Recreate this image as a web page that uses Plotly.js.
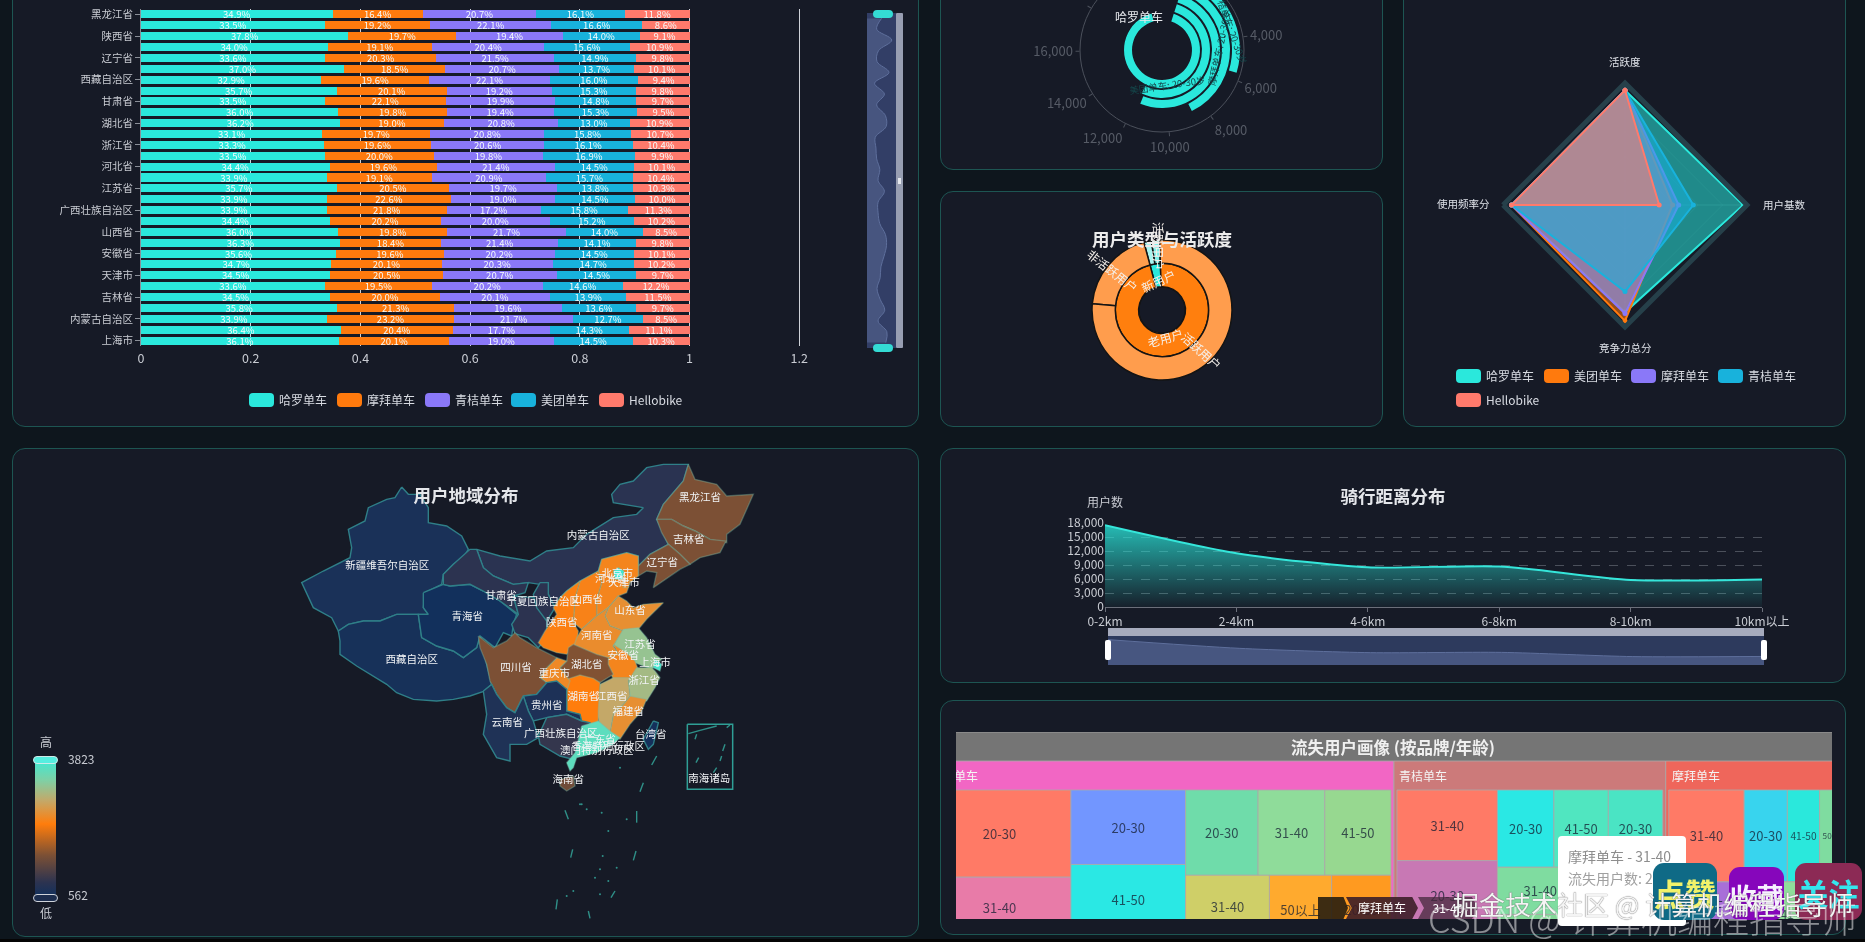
<!DOCTYPE html>
<html><head><meta charset="utf-8">
<script src="https://cdn.plot.ly/plotly-3.0.1.min.js"></script>
<style>
html,body{margin:0;padding:0;background:#0e161d;width:1865px;height:942px;overflow:hidden;font-family:"Noto Sans CJK SC","Noto Sans",sans-serif}
#root{position:absolute;left:0;top:0;width:1865px;height:942px;overflow:hidden;filter:blur(0.45px)}
.abs{position:absolute}
.panel{position:absolute;background:#161a26;border:1px solid #1d5552;border-radius:13px;box-sizing:border-box}
</style></head><body><div id="root"></div>
<script>
// ---------- stacked bars ----------
const provinces=["黑龙江省","新疆维吾尔自治区","陕西省","北京市","辽宁省","重庆市","西藏自治区","山东省","甘肃省","广东省","湖北省","河南省","浙江省","四川省","河北省","湖南省","江苏省","江西省","广西壮族自治区","福建省","山西省","云南省","安徽省","贵州省","天津市","海南省","吉林省","青海省","内蒙古自治区","宁夏回族自治区","上海市"];
const shownProvinces=["黑龙江省","陕西省","辽宁省","西藏自治区","甘肃省","湖北省","浙江省","河北省","江苏省","广西壮族自治区","山西省","安徽省","天津市","吉林省","内蒙古自治区","上海市"];
const brandNames=["哈罗单车","摩拜单车","青桔单车","美团单车","Hellobike"];
const brandColors=["#2ae8dc","#ff7a0d","#8a78f8","#18b2dc","#ff7a6c"];
const haluoShare=[34.9,33.5,37.8,34.0,33.6,37.0,32.9,35.7,33.5,36.0,36.2,33.1,33.3,33.5,34.4,33.9,35.7,33.9,33.9,34.4,36.0,36.3,35.6,34.7,34.5,33.6,34.5,35.8,33.9,36.4,36.1];
const mobikeShare=[16.4,19.2,19.7,19.1,20.3,18.5,19.6,20.1,22.1,19.8,19.0,19.7,19.6,20.0,19.6,19.1,20.5,22.6,21.8,20.2,19.8,18.4,19.6,20.1,20.5,19.5,20.0,21.3,23.2,20.4,20.1];
const qingjuShare=[20.7,22.1,19.4,20.4,21.5,20.7,22.1,19.2,19.9,19.4,20.8,20.8,20.6,19.8,21.4,20.9,19.7,19.0,17.2,20.0,21.7,21.4,20.2,20.3,20.7,20.2,20.1,19.6,21.7,17.7,19.0];
const meituanShare=[16.1,16.6,14.0,15.6,14.9,13.7,16.0,15.3,14.8,15.3,13.0,15.8,16.1,16.9,14.5,15.7,13.8,14.5,15.8,15.2,14.0,14.1,14.5,14.7,14.5,14.6,13.9,13.6,12.7,14.3,14.5];
const helloShare=[11.8,8.6,9.1,10.9,9.8,10.1,9.4,9.8,9.7,9.5,10.9,10.7,10.4,9.9,10.1,10.4,10.3,10.0,11.3,10.2,8.5,9.8,10.1,10.2,9.7,12.2,11.5,9.7,8.5,11.1,10.3];
const barTicks=[0,0.2,0.4,0.6,0.8,1,1.2];
// ---------- polar bars ----------
const polarBrands=["哈罗单车","美团单车","摩拜单车","青桔单车","Hellobike"];
const polarUsers=[20764,11910,11720,8660,5670];
const polarMax=22930;
const polarTicks=[0,2000,4000,6000,8000,10000,12000,14000,16000,18000];
const polarTickText=["","","4,000","6,000","8,000","10,000","12,000","14,000","16,000",""];
// ---------- sunburst ----------
const sunIds=["root","new","old","newActive","newIdle","oldIdle","oldActive"];
const sunLabels=["","新用户","老用户","活跃用户","非活跃用户","非活跃用户","活跃用户"];
const sunParents=["","root","root","new","new","old","old"];
const sunValues=[10000,360,9640,190,170,1940,7700];
const sunColors=["#161a26","#2ae8dc","#ff7f0e","#7ff0ea","#a8f4ef","#ff9d4d","#ff9d4d"];
// ---------- radar ----------
const radarAxes=["活跃度","用户基数","竞争力总分","使用频率分"];
const radarNames=["哈罗单车","美团单车","摩拜单车","青桔单车","Hellobike"];
const radarColors=["#2ae8dc","#ff7a0d","#8a78f8","#18b2dc","#ff7a6c"];
const radarHaluo=[94,97,88,93];
const radarMeituan=[94,39,95,93];
const radarMobike=[94,44,89,93];
const radarQingju=[94,56,71,93];
const radarHello=[94,28,0,93];
// ---------- map ----------
const mapScale=[[0,"#12305c"],[0.1,"#2c3350"],[0.3,"#7c5035"],[0.53,"#ff7d0c"],[0.7,"#c4a868"],[0.85,"#7fd0a5"],[1,"#3fe9d4"]];
const userMin=562, userMax=3823;
const mapOrder=["新疆","西藏","青海","内蒙古","甘肃","甘肃东部","宁夏","黑龙江","吉林","辽宁","河北","山西","陕西","山东","河南","江苏","安徽","浙江","福建","江西","湖北","湖南","重庆","四川","贵州","云南","广西","广东","海南","台湾","北京","天津","上海"];
const mapUsers=[660,630,562,860,890,890,890,1540,1540,1540,2390,2360,2320,2520,2490,3170,2390,3070,2520,2845,1570,2290,2450,1540,700,730,950,3595,1440,600,3823,2420,3760];
const mapOutline={
"新疆":[365,108,385,130,420,130,445,170,445,215,500,225,545,255,565,295,550,320,520,340,490,370,485,400,435,425,430,470,445,490,350,490,300,510,250,510,205,520,175,540,155,500,100,470,65,395,130,360,210,320,215,290,205,235,255,210,265,170,320,145,345,140],
"西藏":[175,540,205,520,250,510,300,510,350,490,415,490,425,560,470,585,520,600,550,620,590,590,600,550,620,640,635,700,615,720,570,735,520,745,470,750,400,745,350,725,320,700,270,670,230,645,180,610,180,570],
"青海":[430,425,490,400,510,405,570,400,610,420,660,450,710,490,700,520,695,555,670,545,645,590,600,555,590,590,550,620,520,600,470,585,425,560,415,490,445,490,430,470],
"内蒙古":[590,295,660,315,750,330,800,300,880,290,920,250,1000,200,1070,190,1090,170,1000,155,995,130,1020,100,1060,90,1100,50,1150,40,1225,40,1210,90,1150,160,1130,205,1165,280,1110,310,1075,345,1075,315,1040,305,965,325,955,360,900,390,860,420,840,440,820,470,805,430,800,395,780,400,745,395,700,400,640,375,610,350],
"甘肃":[490,400,490,370,520,340,570,295,590,295,610,350,640,375,700,400,745,395,735,425,700,435,715,490,660,450,610,420,570,400,510,405],
"甘肃东部":[700,435,760,440,800,500,800,560,775,590,745,560,705,548,695,520,715,490],
"宁夏":[780,395,805,395,805,430,825,470,800,510,770,470,760,430],
"黑龙江":[1225,40,1245,85,1310,100,1340,135,1420,130,1395,185,1380,220,1340,250,1340,275,1290,265,1245,240,1210,225,1175,205,1130,205,1150,160,1210,90],
"吉林":[1130,205,1175,205,1210,225,1245,240,1290,265,1338,270,1320,305,1260,320,1230,340,1200,310,1165,280,1145,245],
"辽宁":[1075,345,1110,310,1165,280,1200,310,1230,340,1200,355,1120,410,1130,365,1100,360,1075,375],
"河北":[965,325,1040,305,1075,315,1075,375,1050,395,1040,425,1015,435,985,470,950,495,950,445,965,395,955,360],
"山西":[900,390,955,360,965,395,950,445,950,495,905,535,880,515,885,440],
"陕西":[860,420,900,390,885,440,880,515,895,540,890,585,860,610,830,605,790,590,775,575,795,540,830,490,820,470,840,440],
"山东":[985,470,1015,435,1040,450,1060,470,1090,460,1150,455,1100,505,1075,535,1030,540,990,525,975,495],
"河南":[905,535,950,495,985,470,975,495,990,525,1030,540,1000,585,1020,615,985,625,950,615,880,590,890,560],
"江苏":[1030,535,1075,530,1100,560,1125,610,1145,625,1115,655,1065,635,1040,610,1000,585],
"安徽":[1000,580,1040,605,1065,630,1080,670,1050,685,1000,685,980,640,985,620,1015,610],
"浙江":[1070,650,1115,650,1125,660,1140,680,1125,710,1100,750,1050,740,1045,690],
"福建":[1050,735,1100,745,1085,780,1050,820,1020,865,990,845,1000,790,1030,760],
"江西":[960,700,1000,680,1050,680,1045,690,1050,735,1030,760,1000,790,990,845,960,825,950,780],
"湖北":[865,590,880,580,950,610,985,620,985,640,1000,670,960,695,940,685,900,675,870,695,840,650,860,630],
"湖南":[860,685,900,672,940,682,960,695,955,780,955,815,905,825,900,790,860,780],
"重庆":[780,680,800,650,830,620,860,630,840,650,870,690,860,720,830,695,800,695],
"四川":[595,555,640,590,680,570,705,545,720,560,770,590,830,620,800,650,780,680,800,695,770,730,730,735,705,785,680,770,650,730,630,690,620,640,600,590],
"贵州":[730,735,770,730,800,695,830,690,860,715,860,780,900,790,905,810,860,790,800,800,760,810,745,780],
"云南":[610,720,635,700,650,730,680,770,705,785,730,735,745,780,760,810,775,860,740,880,690,880,690,930,650,920,610,850,620,790],
"广西":[775,855,800,800,860,790,905,810,930,815,900,880,880,925,840,915,780,880],
"广东":[905,825,955,810,990,840,1020,860,1000,880,950,905,890,920,880,950,870,960,860,935,885,905],
"海南":[840,985,880,975,885,1005,860,1020,840,1005],
"台湾":[1120,810,1135,815,1120,880,1105,895,1090,865],
"北京":[1000,360,1015,350,1032,360,1028,385,1005,385],
"天津":[1030,385,1050,390,1045,410,1030,410],
"上海":[1125,625,1145,640,1140,660,1120,650]
};
const mapLabels=["新疆维吾尔自治区","西藏自治区","青海省","甘肃省","宁夏回族自治区","内蒙古自治区","黑龙江省","吉林省","辽宁省","北京市","河北省","天津市","山西省","山东省","陕西省","河南省","江苏省","安徽省","上海市","湖北省","四川省","重庆市","浙江省","湖南省","江西省","贵州省","福建省","云南省","广西壮族自治区","广东省","台湾省","香港特别行政区","澳门特别行政区","海南省","南海诸岛"];
const mapLabelX=[322,395,562,663,790,955,1260,1226,1147,1012,992,1032,922,1050,845,950,1080,1030,1125,920,708,823,1092,910,995,800,1045,682,842,960,1112,985,950,865,1288];
const mapLabelY=[345,628,500,437,455,255,143,267,338,370,385,398,447,481,516,555,582,615,638,642,651,670,692,740,740,765,785,818,851,868,853,888,900,987,985];
const mapLabelUsers=[660,630,562,890,890,860,1540,1540,1540,3823,2390,2420,2360,2520,2320,2490,3170,2390,3760,1570,1540,2450,3070,2290,2845,700,2520,730,950,3595,600,3200,3100,1440,562];
const islandLines=[[855,1078,865,1105],[1070,1080,1070,1115],[1130,915,1115,942],[1090,995,1080,1022],[878,1195,872,1220],[1068,1200,1060,1228],[1005,1320,993,1340],[832,1345,828,1375],[925,1380,930,1402],[1250,850,1245,865],[1335,880,1328,900],[1256,920,1248,935],[1325,915,1320,930],[1310,950,1300,965],[1225,848,1260,838],[1260,838,1310,825],[1340,830,1350,822]];
const islandDots=[905,1060,920,1075,965,1085,1040,1105,985,1140,968,1215,960,1255,945,1280,880,1320,860,1335,985,1290,960,1330,900,1060,1010,1250,1020,950];
// ---------- area ----------
const distanceBands=["0-2km","2-4km","4-6km","6-8km","8-10km","10km以上"];
const distanceUsers=[17500,11500,8500,8700,5800,5900];
const distanceTicks=[0,3000,6000,9000,12000,15000,18000];
// ---------- treemap ----------
const treeIds=["root","哈罗","青桔","摩拜","a1","a2","a3","a4","a5","a6","a7","a8","a9","a10","a11","a12","a13","a14","a15","b1","b2","b3","b4","b5","b6","b7","b8","b9","b10","b11","b12","b13","c1","c2","c3","c4","c5","c6","c7","c8","c9","c10","c11","c12","c13"];
const treeLabels=["","","","","20-30","31-40","50以上","20-30","41-50","31-40","20-30","31-40","41-50","31-40","41-50","50以上","20-30","20-30","31-40","31-40","20-30","41-50","50以上","20-30","41-50","20-30","31-40","50以上","41-50","31-40","20-30","50以上","31-40","20-30","41-50","50以上","50以上","20-30","31-40","20-30","41-50","31-40","20-30","41-50","50以上"];
const treeParents=["","root","root","root","哈罗","哈罗","哈罗","哈罗","哈罗","哈罗","哈罗","哈罗","哈罗","哈罗","哈罗","哈罗","哈罗","哈罗","哈罗","青桔","青桔","青桔","青桔","青桔","青桔","青桔","青桔","青桔","青桔","青桔","青桔","青桔","摩拜","摩拜","摩拜","摩拜","摩拜","摩拜","摩拜","摩拜","摩拜","摩拜","摩拜","摩拜","摩拜"];
const treeValues=[0,0,0,0,12700,8850,8750,8700,8100,7500,6300,5800,5750,5300,5200,4300,4100,3500,3300,7300,7200,7000,3000,4490,4325,4325,4160,3800,3565,3090,2730,1900,7200,4125,3075,3000,2900,2800,2700,2600,2500,2400,2300,2200,1600];
const treeColors=["#757575","#f266c4","#cc7a7a","#ef665b","#ff7a66","#e87ba8","#c98fd0","#7296ff","#2ae8e4","#a070e0","#6fdcaa","#8fdc9a","#97d890","#cfcf68","#d4b060","#ffaa2e","#ff9a20","#7fd4a0","#e0c060","#ff7a66","#c878b4","#a0c080","#e0a070","#2ae8e4","#50e6c0","#4ae4c4","#7fdca0","#84d898","#dcc060","#a070e0","#60c8e0","#e89060","#ff7a66","#38d4ee","#2ae8dc","#7fdca0","#a86fd8","#7fdca0","#e09060","#d0b060","#8fdc9a","#e0c060","#7296ff","#ffaa2e","#e87ba8"];
const treeBrandHeaders=["哈罗单车","青桔单车","摩拜单车"];

const FONT='"Noto Sans CJK SC","Noto Sans",sans-serif';
const root=document.getElementById('root');
function box(x,y,w,h,css,txt){const d=document.createElement('div');d.className='abs';d.style.cssText=`left:${x}px;top:${y}px;width:${w}px;height:${h}px;${css||''}`;if(txt!==undefined)d.textContent=txt;root.appendChild(d);return d;}
function panel(x0,y0,x1,y1){const d=document.createElement('div');d.className='panel';d.style.cssText=`left:${x0}px;top:${y0}px;width:${x1-x0}px;height:${y1-y0}px`;root.appendChild(d);}
function plot(x,y,w,h,data,layout,parent){const d=document.createElement('div');d.className='abs';d.style.cssText=`left:${x}px;top:${y}px;width:${w}px;height:${h}px`;(parent||root).appendChild(d);
 layout=Object.assign({width:w,height:h,paper_bgcolor:'rgba(0,0,0,0)',plot_bgcolor:'rgba(0,0,0,0)',showlegend:false,font:{family:FONT,color:'#e8eaee'}},layout);
 layout.margin=Object.assign({l:0,r:0,t:0,b:0,pad:0,autoexpand:false},layout.margin||{});
 if(layout.annotations)layout.annotations=layout.annotations.map(a=>Object.assign({xanchor:'center',yanchor:'middle'},a));
 Plotly.newPlot(d,data,layout,{displayModeBar:false,staticPlot:true});return d;}
function legend(items,colors,y,xs){items.forEach((n,i)=>{box(xs[i],y-7,25,14,`background:${colors[i]};border-radius:4px`);box(xs[i]+30,y-10,70,20,'color:#d8dbe2;font-size:12px;line-height:20px;white-space:nowrap',n);});}
function colorAt(v){const t=(v-userMin)/(userMax-userMin);let i=0;while(i<mapScale.length-2&&t>mapScale[i+1][0])i++;const a=mapScale[i],b=mapScale[i+1],f=Math.min(1,Math.max(0,(t-a[0])/(b[0]-a[0])));const p=c=>[1,3,5].map(k=>parseInt(c.substr(k,2),16));const A=p(a[1]),B=p(b[1]);return `rgb(${A.map((q,k)=>Math.round(q+(B[k]-q)*f)).join(',')})`;}

// panels
panel(12,-20,919,427);panel(940,-20,1383,170);panel(940,191,1383,427);panel(1403,-20,1846,427);panel(12,448,919,937);panel(940,448,1846,683);panel(940,700,1846,935);

// ---- stacked bars
const shares=[haluoShare,mobikeShare,qingjuShare,meituanShare,helloShare];
plot(12,0,907,427,brandNames.map((n,i)=>({type:'bar',orientation:'h',name:n,y:provinces,x:shares[i],marker:{color:brandColors[i]},text:shares[i].map(v=>v.toFixed(1)+'%'),textposition:'inside',insidetextanchor:'middle',textangle:0,constraintext:'none',textfont:{size:9.5,color:'#f4fbfb'},cliponaxis:false,hoverinfo:'skip'})),{
 barmode:'stack',barnorm:'fraction',bargap:0.26,margin:{l:129,r:117.3,t:9,b:81},
 xaxis:{range:[0,1.205],tickvals:barTicks,ticktext:barTicks.map(String),tickfont:{size:12.5,color:'#c9ccd3'},ticklabelstandoff:3,gridcolor:'#ced2d8',gridwidth:1,showline:false,zeroline:false,ticks:'',ticklen:0},
 yaxis:{type:'category',categoryorder:'array',categoryarray:provinces,autorange:false,range:[30.5,-0.5],tickmode:'array',tickvals:shownProvinces,ticktext:shownProvinces,tickfont:{size:10.5,color:'#c9ccd3'},ticks:'outside',ticklen:5,tickcolor:'#8a8f98',showline:true,linecolor:'#8a8f98',showgrid:false}
});
legend(brandNames,brandColors,400,[249,337,425,511,599]);
// bar data-zoom slider
plot(867,13,29,335,[{type:'scatter',mode:'lines',x:haluoShare,y:provinces,fill:'tozerox',fillcolor:'#47557f',line:{color:'#5e6f9c',width:1,shape:'spline'},hoverinfo:'skip'}],{
 plot_bgcolor:'#323e66',
 xaxis:{range:[30.75,39],visible:false},yaxis:{type:'category',categoryorder:'array',categoryarray:provinces,range:[30.5,-0.5],visible:false}
});
box(896,13,7,335,'background:#989eb2;border-radius:1px');
box(873,10,20,8,'background:#34dbd4;border-radius:4px');
box(873,344,20,8,'background:#34dbd4;border-radius:4px');
box(898,178,3,6,'background:#e6e8ee');

// ---- polar
const polarDeg=360/polarMax;
plot(1000,-60,324,230,[{type:'barpolar',r:polarUsers.map(()=>8),base:polarBrands.map((b,i)=>30+i*10),theta:polarUsers.map(e=>e/2*polarDeg),width:polarUsers.map(e=>e*polarDeg),marker:{color:'#2ae8dc',line:{width:0}},hoverinfo:'skip'}],{
 polar:{domain:{x:[80/324,244/324],y:[(230-110-82)/230,(230-110+82)/230]},bgcolor:'rgba(0,0,0,0)',
  radialaxis:{range:[0,82],visible:false},
  angularaxis:{rotation:72,direction:'clockwise',thetaunit:'degrees',tickmode:'array',tickvals:polarTicks.map(v=>v*polarDeg),ticktext:polarTickText,tickfont:{size:13,color:'#565b66'},linecolor:'#4b505b',linewidth:1,showgrid:false,ticks:'outside',ticklen:4,tickcolor:'#4b505b'}},
 annotations:[
  {xref:'paper',yref:'paper',x:(1139-1000)/324,y:1-(76)/230,text:'哈罗单车',showarrow:false,font:{size:12,color:'#e8eaee'}},
  {xref:'paper',yref:'paper',x:(1167-1000)/324,y:1-(145)/230,text:'美团单车: 20-30岁',showarrow:false,font:{size:9.5,color:'#14484c'},textangle:-8},
  {xref:'paper',yref:'paper',x:(1219-1000)/324,y:1-(108)/230,text:'摩拜单车: 20-30岁',showarrow:false,font:{size:9.5,color:'#14484c'},textangle:-78},
  {xref:'paper',yref:'paper',x:(1231-1000)/324,y:1-(88)/230,text:'青桔单车: 20-30岁',showarrow:false,font:{size:9.5,color:'#14484c'},textangle:70}
 ]
});

// ---- sunburst
const sunW=443,sunH=236,sx=v=>(v-940)/sunW,sy=v=>1-(v-191)/sunH;
plot(940,191,sunW,sunH,[{type:'sunburst',ids:sunIds,labels:sunLabels,parents:sunParents,values:sunValues,branchvalues:'total',sort:false,rotation:92,textinfo:'none',leaf:{opacity:1},marker:{colors:sunColors,line:{color:'#141414',width:1.5}},domain:{x:[sx(1092),sx(1232)],y:[sy(380),sy(240)]},hoverinfo:'skip'}],{
 title:{text:'用户类型与活跃度',x:sx(1162),xanchor:'center',y:sy(240),yanchor:'middle',font:{size:17.5,weight:700,color:'#ececec'}},
 annotations:[
  [1113,270,'非活跃用户',38],[1158,280,'新用户',-25],[1159,246,'活跃用户',90],[1165,337,'老用户',-16],[1202,350,'活跃用户',42]
 ].map(a=>({xref:'paper',yref:'paper',x:sx(a[0]),y:sy(a[1]),text:a[2],textangle:a[3],showarrow:false,font:{size:12,color:'#f5f0ea'}}))
});

// ---- radar
const radarVals=[radarHaluo,radarMeituan,radarMobike,radarQingju,radarHello];
const rW=443,rH=447,rx=v=>(v-1403)/rW,ry=v=>1-v/rH;
function hexA(c,a){const p=[1,3,5].map(k=>parseInt(c.substr(k,2),16));return `rgba(${p.join(',')},${a})`;}
plot(1403,0,rW,rH,radarNames.map((n,i)=>({type:'scatterpolar',name:n,r:radarVals[i].concat(radarVals[i][0]),theta:radarAxes.concat(radarAxes[0]),fill:'toself',fillcolor:hexA(radarColors[i],0.55),mode:'lines+markers',line:{color:radarColors[i],width:2},marker:{size:5,color:radarColors[i]},hoverinfo:'skip'})),{
 polar:{domain:{x:[rx(1503),rx(1747)],y:[ry(327),ry(83)]},bgcolor:'rgba(0,0,0,0)',gridshape:'linear',
  radialaxis:{range:[0,100],tickvals:[20,40,60,80],showticklabels:false,showline:false,ticks:'',gridcolor:'rgba(120,160,170,0.10)'},
  angularaxis:{rotation:90,direction:'clockwise',type:'category',categoryorder:'array',categoryarray:radarAxes,showticklabels:false,ticks:'',linecolor:'#26404a',linewidth:5,gridcolor:'rgba(120,160,170,0.22)'}},
 annotations:[[1625,61],[1784,204],[1625,347],[1463,203]].map((a,i)=>({xref:'paper',yref:'paper',x:rx(a[0]),y:ry(a[1]),text:radarAxes[i],showarrow:false,font:{size:10.5,color:'#dfe2e8'}}))
});
legend(radarNames.slice(0,4),radarColors,376,[1456,1544,1631,1718]);
legend(['Hellobike'],[radarColors[4]],400,[1456]);

// ---- map
const order=mapOrder.map((n,i)=>({n,u:mapUsers[i]}));
const mapTraces=order.map(o=>{const p=mapOutline[o.n],xs=[],ys=[];for(let i=0;i<p.length;i+=2){xs.push(p[i]);ys.push(p[i+1]);}xs.push(p[0]);ys.push(p[1]);
 return {type:'scatter',mode:'lines',x:xs,y:ys,fill:'toself',fillcolor:colorAt(o.u),line:{color:o.u<1000?'#2f7f88':'rgba(120,190,170,0.38)',width:1.4},hoverinfo:'skip'};});
const ix=[],iy=[];islandLines.forEach(l=>{ix.push(l[0],l[2],null);iy.push(l[1],l[3],null);});
mapTraces.push({type:'scatter',mode:'lines',x:ix,y:iy,line:{color:'#2f9088',width:1.4},hoverinfo:'skip'});
const dx=[],dy=[];for(let i=0;i<islandDots.length;i+=2){dx.push(islandDots[i]);dy.push(islandDots[i+1]);}
mapTraces.push({type:'scatter',mode:'markers',x:dx,y:dy,marker:{size:2,color:'#2f9088'},hoverinfo:'skip'});
mapTraces.push({type:'scatter',mode:'lines',x:[1222,1358,1358,1222,1222],y:[820,820,1015,1015,820],line:{color:'#2f9f96',width:1.5},hoverinfo:'skip'});
mapTraces.push({type:'scatter',mode:'markers+text',x:mapLabelX,y:mapLabelY,text:mapLabels,textposition:'middle center',textfont:{size:10.5,color:'#f2f4f6'},
 marker:{size:1,opacity:0,color:mapLabelUsers,cmin:userMin,cmax:userMax,colorscale:mapScale,showscale:true,
  colorbar:{x:(35-12)/907,xanchor:'left',y:1-(828-448)/489,yanchor:'middle',lenmode:'pixels',len:136,thicknessmode:'pixels',thickness:21,outlinewidth:0,xpad:0,ypad:0,tickmode:'array',tickvals:[userMin,userMax],ticktext:['562','3823'],ticks:'outside',ticklen:10,tickcolor:'rgba(0,0,0,0)',tickfont:{size:12,color:'#c9ccd3'}}},hoverinfo:'skip',cliponaxis:false});
plot(12,448,907,489,mapTraces,{
 title:{text:'用户地域分布',x:(466-12)/907,xanchor:'center',y:1-(496-448)/489,yanchor:'middle',font:{size:17.5,weight:700,color:'#e4e6ea'}},
 xaxis:{domain:[268/907,768/907],range:[0,1500],visible:false},
 yaxis:{domain:[0,1-3/489],range:[1458,0],visible:false}
});
box(33,756,25,8,'background:#55eee0;border:1px solid #cfe9e8;border-radius:5px;box-sizing:border-box');
box(33,894,25,8,'background:#1c2d4e;border:1px solid #cfd3da;border-radius:5px;box-sizing:border-box');
box(36,733,20,18,'color:#c9ccd3;font-size:12px;text-align:center;line-height:18px','高');
box(36,904,20,18,'color:#c9ccd3;font-size:12px;text-align:center;line-height:18px','低');

// ---- area
const aW=906,aH=235,ax=v=>(v-940)/aW,ay=v=>1-(v-448)/aH;
plot(940,448,aW,aH,[
 {type:'scatter',mode:'lines',x:[0,1,2,3,4,5],y:distanceUsers,line:{color:'#35e6da',width:2,shape:'spline',smoothing:0.7},fill:'tozeroy',fillcolor:'rgba(42,232,220,0.4)',fillgradient:{type:'vertical',start:0,stop:18000,colorscale:[[0,'rgba(42,232,220,0.03)'],[1,'rgba(42,232,220,0.8)']]},hoverinfo:'skip',text:distanceBands},
 {type:'scatter',mode:'lines',x:[0,1,2,3,4,5],y:distanceUsers,xaxis:'x2',yaxis:'y2',line:{color:'#5e6f9c',width:1,shape:'spline',smoothing:0.7},fill:'tozeroy',fillcolor:'#475680',hoverinfo:'skip'}
],{
 title:{text:'骑行距离分布',x:ax(1393),xanchor:'center',y:ay(497),yanchor:'middle',font:{size:17.5,weight:700,color:'#e4e6ea'}},
 xaxis:{domain:[ax(1105),ax(1762)],range:[0,5],tickvals:[0,1,2,3,4,5],ticktext:distanceBands,tickfont:{size:12,color:'#c9ccd3'},showgrid:false,zeroline:false,showline:true,linecolor:'#6b6f7a',ticks:'outside',ticklen:4,tickcolor:'#6b6f7a',anchor:'y'},
 yaxis:{domain:[ay(607),ay(523)],range:[0,18000],tickvals:distanceTicks,ticktext:distanceTicks.map(v=>v.toLocaleString('en-US')),tickfont:{size:12,color:'#c9ccd3'},gridcolor:'rgba(200,205,215,0.3)',griddash:'dash',zeroline:false,anchor:'x'},
 xaxis2:{domain:[ax(1108),ax(1764)],range:[0,5],visible:false,anchor:'y2'},
 yaxis2:{domain:[ay(665),ay(636)],range:[0,20000],visible:false,anchor:'x2'},
 annotations:[{xref:'paper',yref:'paper',x:ax(1105),y:ay(501),text:'用户数',showarrow:false,font:{size:12,color:'#c9ccd3'}}],
 shapes:[{type:'rect',xref:'paper',yref:'paper',x0:ax(1108),x1:ax(1764),y0:ay(665),y1:ay(636),fillcolor:'#2d3a5d',line:{width:0},layer:'below'},
 {type:'rect',xref:'paper',yref:'paper',x0:ax(1108),x1:ax(1764),y0:ay(636),y1:ay(628),fillcolor:'#a6abbd',line:{width:0},layer:'below'}]
});
box(1105,640,6,20,'background:#fff;border-radius:2px');box(1761,640,6,20,'background:#fff;border-radius:2px');

// ---- treemap
const clip=box(956,732,876,187,'overflow:hidden');
const tmX=922-956,tmW=935,tmH=272;
plot(tmX,0,tmW,tmH,[{type:'treemap',ids:treeIds,labels:treeLabels,parents:treeParents,values:treeValues,branchvalues:'remainder',sort:true,
 tiling:{packing:'squarify',squarifyratio:1.6,pad:0},pathbar:{visible:false},textinfo:'label',textposition:'middle center',
 textfont:{size:13,color:'rgba(20,30,50,0.75)'},insidetextfont:{size:13,color:'rgba(20,30,50,0.75)'},leaf:{opacity:1},
 marker:{colors:treeColors,depthfade:false,line:{width:1,color:'rgba(170,170,170,.8)'},pad:{t:29,l:3,r:3,b:3}},hoverinfo:'skip'}],{
 annotations:[{xref:'paper',yref:'paper',x:(1393-956-tmX)/tmW,y:1-15/tmH,text:'流失用户画像 (按品牌/年龄)',showarrow:false,font:{size:16.5,weight:700,color:'#f0f0f0'}},
 ...treeBrandHeaders.map((t,i)=>({xref:'paper',yref:'paper',xanchor:'left',x:([928,1397,1670][i]-956-tmX)/tmW,y:1-44/tmH,text:t,showarrow:false,font:{size:12,color:'#f4f4f4'}}))]
},clip);

// ---- overlays
box(1558,836,128,90,'background:#fff;border-radius:4px');
box(1568,846,115,20,'color:#8d8d8d;font-size:14px;white-space:nowrap','摩拜单车 - 31-40');
box(1568,868,90,20,'color:#a0a0a0;font-size:14px;white-space:nowrap','流失用户数: 2');
box(1318,897,30,22,'background:rgba(40,30,15,.9);clip-path:polygon(0 0,85% 0,100% 50%,85% 100%,0 100%)');
box(1346,897,72,22,'background:rgba(60,30,40,.9);clip-path:polygon(0 0,92% 0,100% 50%,92% 100%,0 100%,8% 50%);color:#fff;font-size:12px;line-height:22px;text-align:center','摩拜单车');
box(1418,897,60,22,'background:rgba(70,40,60,.75);clip-path:polygon(0 0,90% 0,100% 50%,90% 100%,0 100%,10% 50%);color:#fff;font-size:12px;line-height:22px;text-align:center','31-40');
const st='border-radius:11px;overflow:hidden;font-weight:700;line-height:34px;text-align:center;padding-top:13px;box-sizing:border-box;';
box(1653,863,64,57,'background:#0f6a86;color:#f2f26a;font-size:31px;'+st,'点赞');
box(1729,867,55,53,'background:#8606bb;color:#f7f0ff;font-size:27px;'+st,'收藏');
box(1795,863,67,57,'background:#8c2a55;color:#34e6ee;font-size:31px;'+st,'关注');
box(1428,897,437,40,'color:rgba(255,255,255,.5);font-size:36px;line-height:40px;white-space:nowrap;font-weight:300','CSDN @ 计算机编程指导师');
box(1453,888,412,32,'color:#f4f4f4;font-size:26px;line-height:32px;white-space:nowrap;text-shadow:0 0 1px #333','掘金技术社区 @ 计算机编程指导师');
box(0,939,1865,3,'background:#050505');
</script>
</body></html>
